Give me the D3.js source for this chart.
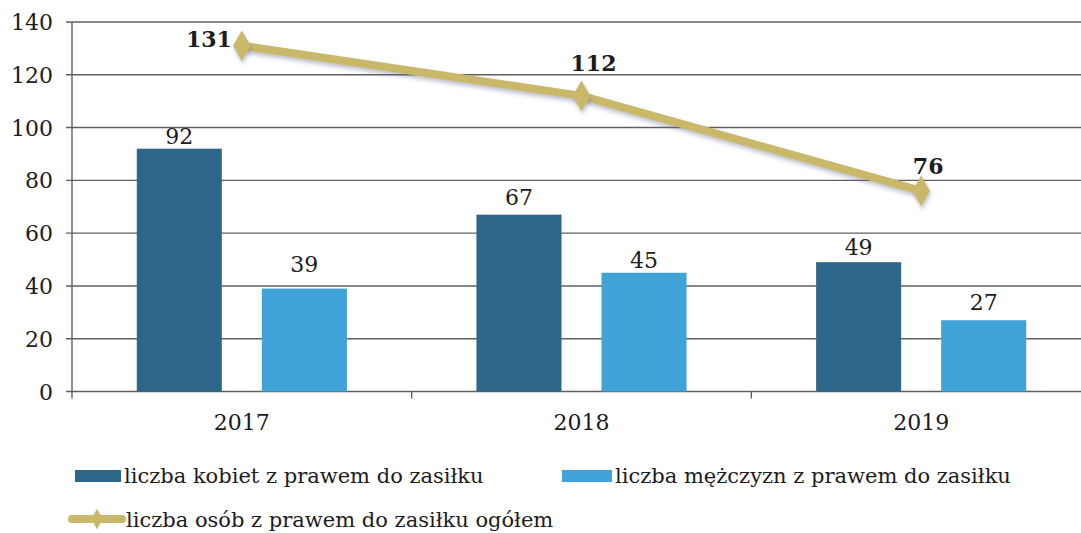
<!DOCTYPE html>
<html>
<head>
<meta charset="utf-8">
<script src="https://cdn.jsdelivr.net/npm/d3@7/dist/d3.min.js"></script>
<style>
  html, body { margin: 0; padding: 0; background: #fff; }
  svg { display: block; }
  text { font-family: "DejaVu Serif", "Liberation Serif", serif; fill: #1c1c1c; }
</style>
</head>
<body>
<svg id="chart" width="1081" height="533"></svg>
<script>
// Chart data
const years = ["2017", "2018", "2019"];
const women = [92, 67, 49];
const men = [39, 45, 27];
const total = [131, 112, 76];
const yTicks = [0, 20, 40, 60, 80, 100, 120, 140];
const seriesNames = [
  "liczba kobiet z prawem do zasiłku",
  "liczba mężczyzn z prawem do zasiłku",
  "liczba osób z prawem do zasiłku ogółem"
];

const colWomen = "#2c6789";
const colMen = "#40a3d8";
const colLine = "#cab86a";
const gridCol = "#5f5f5f";

const svg = d3.select("#chart");
const plotLeft = 72, plotRight = 1091, plotTop = 22, plotBottom = 391.5;

const x = d3.scaleBand().domain(years).range([plotLeft, plotRight]).padding(0);
const inner = d3.scaleBand().domain(["w", "m"]).range([0, x.bandwidth()])
  .paddingInner(0.32).paddingOuter(0.518);
const y = d3.scaleLinear().domain([0, 140]).range([plotBottom, plotTop]);

const defs = svg.append("defs");
const sh = defs.append("filter").attr("id", "shadow")
  .attr("x", "-50%").attr("y", "-50%").attr("width", "200%").attr("height", "200%");
sh.append("feDropShadow").attr("dx", 1).attr("dy", 3).attr("stdDeviation", 2)
  .attr("flood-color", "#5a5f8a").attr("flood-opacity", 0.4);

// Horizontal gridlines
svg.append("g").selectAll("line").data(yTicks).join("line")
  .attr("x1", plotLeft - 6).attr("x2", 1081)
  .attr("y1", d => y(d)).attr("y2", d => y(d))
  .attr("stroke", gridCol).attr("stroke-width", 1.4);

// Y axis line
svg.append("line").attr("x1", plotLeft).attr("x2", plotLeft)
  .attr("y1", y(140)).attr("y2", plotBottom + 7)
  .attr("stroke", gridCol).attr("stroke-width", 1.4);

// Category separators on x axis
svg.append("g").selectAll("line").data(years.slice(1)).join("line")
  .attr("x1", d => x(d)).attr("x2", d => x(d))
  .attr("y1", plotBottom).attr("y2", plotBottom + 7)
  .attr("stroke", gridCol).attr("stroke-width", 1.4);

// Y tick labels
svg.append("g").selectAll("text").data(yTicks).join("text")
  .attr("x", 53).attr("y", d => y(d) + 8)
  .attr("text-anchor", "end").attr("font-size", 22)
  .text(d => d);

// X tick labels
svg.append("g").selectAll("text").data(years).join("text")
  .attr("x", d => x(d) + x.bandwidth() / 2).attr("y", 430)
  .attr("text-anchor", "middle").attr("font-size", 22)
  .text(d => d);

// Bars
const barData = [];
const labelGap = { w: [5, 10, 7], m: [17, 5, 10] };
years.forEach((yr, i) => {
  barData.push({ yr, key: "w", v: women[i], c: colWomen, gap: labelGap.w[i] });
  barData.push({ yr, key: "m", v: men[i], c: colMen, gap: labelGap.m[i] });
});
svg.append("g").selectAll("rect").data(barData).join("rect")
  .attr("x", d => x(d.yr) + inner(d.key))
  .attr("y", d => y(d.v))
  .attr("width", inner.bandwidth())
  .attr("height", d => plotBottom - y(d.v))
  .attr("fill", d => d.c);

// Bar value labels
svg.append("g").selectAll("text").data(barData).join("text")
  .attr("x", d => x(d.yr) + inner(d.key) + inner.bandwidth() / 2)
  .attr("y", d => y(d.v) - d.gap)
  .attr("text-anchor", "middle").attr("font-size", 22)
  .text(d => d.v);

// Total line
const cx = d => x(d) + x.bandwidth() / 2;
const line = d3.line().x((d, i) => cx(years[i])).y(d => y(d));
svg.append("path").datum(total)
  .attr("d", line).attr("fill", "none")
  .attr("stroke", colLine).attr("stroke-width", 8)
  .attr("stroke-linejoin", "round")
  .attr("filter", "url(#shadow)");

const diamond = d3.symbol().type(d3.symbolDiamond).size(270);
svg.append("g").selectAll("path").data(total).join("path")
  .attr("d", diamond)
  .attr("transform", (d, i) => `translate(${cx(years[i])},${y(d)})`)
  .attr("fill", colLine)
  .attr("filter", "url(#shadow)");

// Total value labels
const lblOffset = [[-10, 1], [12, -25], [7, -17]];
svg.append("g").selectAll("text").data(total).join("text")
  .attr("x", (d, i) => cx(years[i]) + lblOffset[i][0])
  .attr("y", (d, i) => y(d) + lblOffset[i][1])
  .attr("text-anchor", (d, i) => i === 0 ? "end" : "middle")
  .attr("font-size", 22).attr("font-weight", "bold")
  .text(d => d);

// Legend
const leg = svg.append("g");
leg.append("rect").attr("x", 75).attr("y", 470).attr("width", 46).attr("height", 12).attr("fill", colWomen);
leg.append("text").attr("x", 124).attr("y", 483).attr("font-size", 21).text(seriesNames[0]);
leg.append("rect").attr("x", 562).attr("y", 470).attr("width", 50).attr("height", 12).attr("fill", colMen);
leg.append("text").attr("x", 615).attr("y", 483).attr("font-size", 21).text(seriesNames[1]);
leg.append("line").attr("x1", 72).attr("x2", 122).attr("y1", 519).attr("y2", 519)
  .attr("stroke", colLine).attr("stroke-width", 8).attr("stroke-linecap", "round");
leg.append("path").attr("d", d3.symbol().type(d3.symbolDiamond).size(120))
  .attr("transform", "translate(97,519)").attr("fill", colLine);
leg.append("text").attr("x", 126).attr("y", 527).attr("font-size", 21).text(seriesNames[2]);
</script>
</body>
</html>
